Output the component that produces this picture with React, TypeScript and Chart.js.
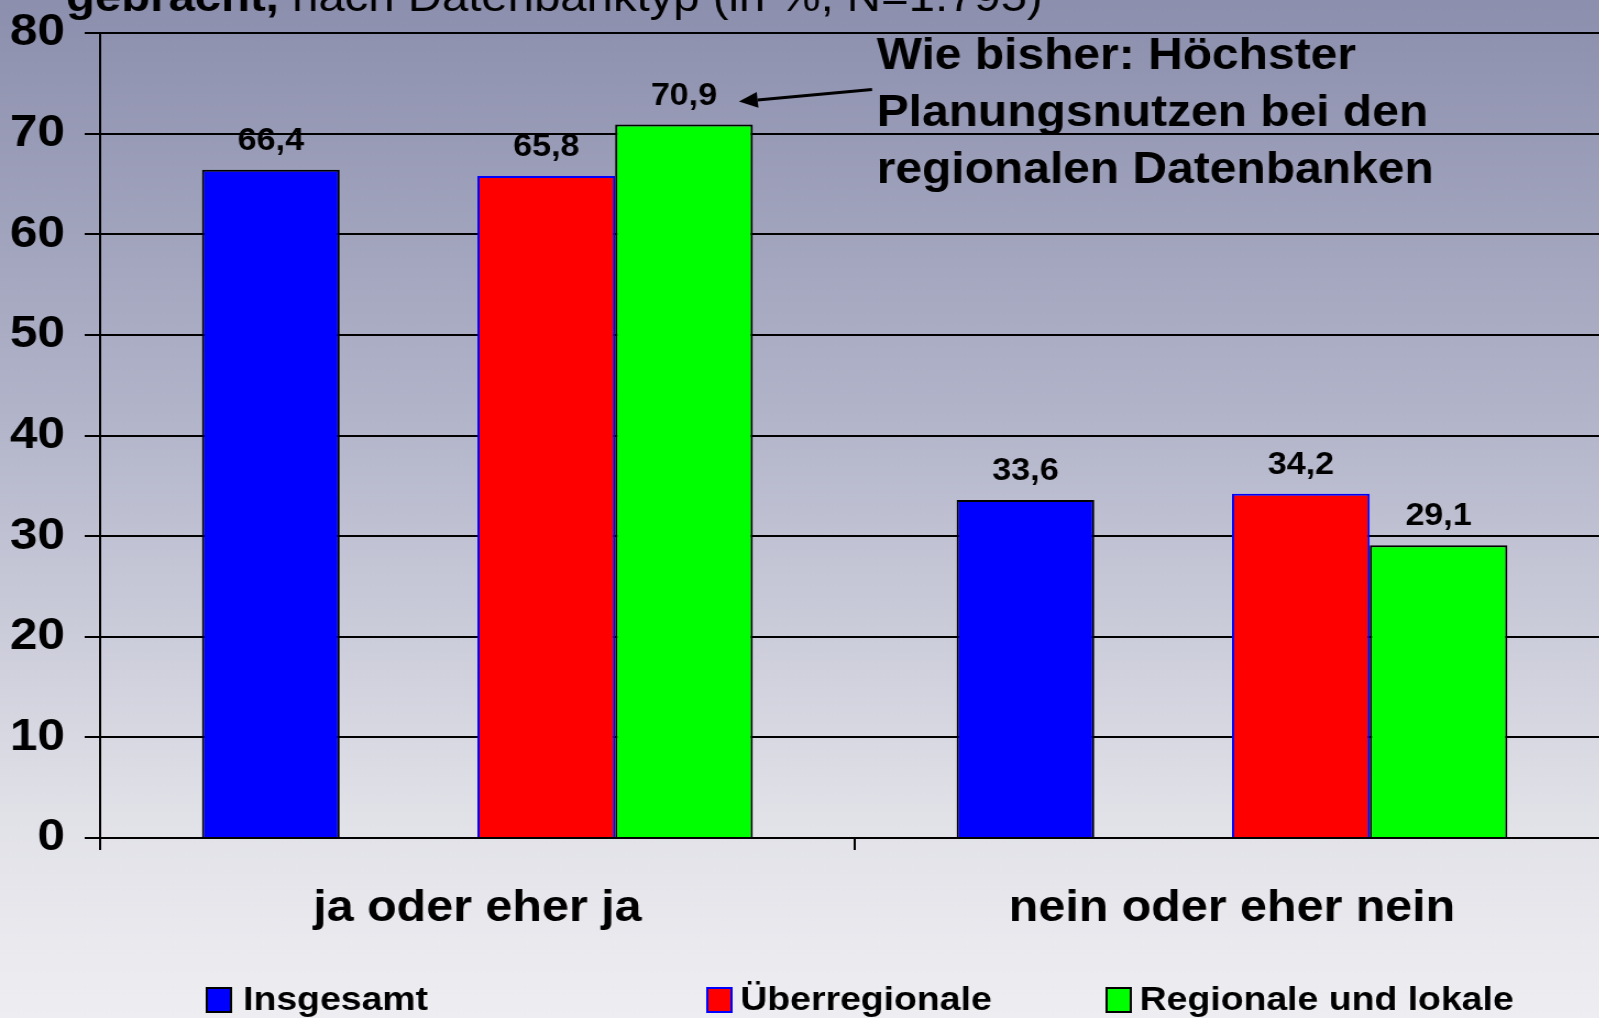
import React, { useEffect, useRef } from "react";
import { Chart, registerables } from "chart.js";

Chart.register(...registerables);

// ---- data ----
const categories = ["ja oder eher ja", "nein oder eher nein"];
const insgesamt = [66.4, 33.6];
const spacer: (number | null)[] = [null, null];
const ueberregionale = [65.8, 34.2];
const regionale = [70.9, 29.1];
const yMin = 0;
const yMax = 80;
const yStep = 10;
const titleBold = "gebracht,";
const titleNormal = " nach Datenbanktyp (in %, N=1.795)";
const annotationLines = ["Wie bisher: Höchster", "Planungsnutzen bei den", "regionalen Datenbanken"];

const FONT = '"Liberation Sans", Arial, Helvetica, sans-serif';
const SX = 1.1; // horizontal stretch of original slide
const CW = 1464;
const CH = 1018;

const fmt = (v: number) => v.toFixed(1).replace(".", ",");

const bgPlugin = {
  id: "bg",
  beforeDraw(chart: any) {
    const { ctx, width, height } = chart;
    const g = ctx.createLinearGradient(0, 0, 0, height);
    g.addColorStop(0, "#8C8FAD");
    g.addColorStop(0.4, "#B1B3C9");
    g.addColorStop(0.8, "#E1E1E8");
    g.addColorStop(1, "#EEEEF2");
    ctx.save();
    ctx.fillStyle = g;
    ctx.fillRect(0, 0, width, height);
    ctx.restore();
  },
};

const labelsPlugin = {
  id: "valueLabels",
  afterDatasetsDraw(chart: any) {
    const { ctx } = chart;
    ctx.save();
    ctx.font = `bold 31px ${FONT}`;
    ctx.fillStyle = "#000";
    ctx.textAlign = "center";
    ctx.textBaseline = "alphabetic";
    chart.data.datasets.forEach((ds: any, i: number) => {
      if (!ds.label) return;
      const meta = chart.getDatasetMeta(i);
      meta.data.forEach((bar: any, j: number) => {
        const v = ds.data[j];
        if (v == null) return;
        ctx.fillText(fmt(v), bar.x, bar.y - 20);
      });
    });
    ctx.restore();
  },
};

const overlayPlugin = {
  id: "overlay",
  afterDraw(chart: any) {
    const { ctx } = chart;
    ctx.save();
    // title (cut off at top)
    ctx.fillStyle = "#000";
    ctx.textBaseline = "alphabetic";
    ctx.textAlign = "left";
    ctx.font = `bold 43px ${FONT}`;
    ctx.fillText(titleBold, 60, 11);
    const w = ctx.measureText(titleBold).width;
    ctx.font = `43px ${FONT}`;
    ctx.fillText(titleNormal, 60 + w, 11);

    // annotation text
    ctx.font = `bold 43.6px ${FONT}`;
    annotationLines.forEach((line, k) => {
      ctx.fillText(line, 797, 69 + k * 57);
    });

    // arrow pointing to the highest bar label
    const meta = chart.getDatasetMeta(3);
    const bar: any = meta.data[0];
    const tipX = bar.x + 50;
    const tipY = bar.y - 23;
    const tailX = tipX + 121;
    const tailY = tipY - 12;
    const ang = Math.atan2(tipY - tailY, tipX - tailX);
    const headL = 17;
    const headW = 8;
    const bx = tipX - headL * Math.cos(ang);
    const by = tipY - headL * Math.sin(ang);
    ctx.strokeStyle = "#000";
    ctx.lineWidth = 3;
    ctx.beginPath();
    ctx.moveTo(tailX, tailY);
    ctx.lineTo(bx, by);
    ctx.stroke();
    ctx.beginPath();
    ctx.moveTo(tipX, tipY);
    ctx.lineTo(bx + headW * Math.sin(ang), by - headW * Math.cos(ang));
    ctx.lineTo(bx - headW * Math.sin(ang), by + headW * Math.cos(ang));
    ctx.closePath();
    ctx.fillStyle = "#000";
    ctx.fill();

    // legend
    const legendItems = [
      { ds: 0, box: 188, text: 221 },
      { ds: 2, box: 643, text: 673 },
      { ds: 3, box: 1006, text: 1036 },
    ];
    ctx.font = `bold 34px ${FONT}`;
    legendItems.forEach((it) => {
      const ds: any = chart.data.datasets[it.ds];
      ctx.fillStyle = ds.backgroundColor;
      ctx.fillRect(it.box, 988, 22, 24);
      ctx.strokeStyle = ds.borderColor;
      ctx.lineWidth = 2;
      ctx.strokeRect(it.box, 988, 22, 24);
      ctx.fillStyle = "#000";
      ctx.fillText(ds.label, it.text, 1010);
    });
    ctx.restore();
  },
};

export default function App() {
  const ref = useRef<HTMLCanvasElement | null>(null);

  useEffect(() => {
    if (!ref.current) return;
    const chart = new Chart(ref.current, {
      type: "bar",
      data: {
        labels: categories,
        datasets: [
          { label: "Insgesamt", data: insgesamt, backgroundColor: "#0000FF", borderColor: "#000000", borderWidth: 2 },
          { label: "", data: spacer, backgroundColor: "rgba(0,0,0,0)", borderWidth: 0 },
          { label: "Überregionale", data: ueberregionale, backgroundColor: "#FF0000", borderColor: "#0000FF", borderWidth: 2 },
          { label: "Regionale und lokale", data: regionale, backgroundColor: "#00FF00", borderColor: "#000000", borderWidth: 2 },
        ] as any,
      },
      options: {
        responsive: false,
        animation: false,
        devicePixelRatio: 1,
        layout: { padding: { top: 33, right: 1, left: 0, bottom: 0 } },
        datasets: { bar: { categoryPercentage: 0.73, barPercentage: 1 } } as any,
        plugins: {
          legend: { display: false },
          tooltip: { enabled: false },
          title: { display: false },
        },
        scales: {
          x: {
            offset: true,
            grid: {
              display: true,
              drawOnChartArea: false,
              drawTicks: true,
              tickLength: 12,
              color: "#000",
              lineWidth: 2,
              offset: true,
            },
            border: { display: true, color: "#000", width: 2 },
            ticks: {
              color: "#000",
              font: { family: FONT, size: 44, weight: "bold" },
              padding: 32,
              maxRotation: 0,
            },
            afterFit(scale: any) {
              scale.height = 180;
              scale.paddingLeft = 0;
              scale.paddingRight = 0;
            },
          },
          y: {
            min: yMin,
            max: yMax,
            grid: {
              color: "#000",
              lineWidth: 2,
              drawTicks: true,
              tickLength: 14,
            },
            border: { display: true, color: "#000", width: 2 },
            ticks: {
              stepSize: yStep,
              color: "#000",
              font: { family: FONT, size: 45, weight: "bold" },
              padding: 18,
            },
            afterFit(scale: any) {
              scale.width = 91;
              scale.paddingTop = 0;
              scale.paddingBottom = 0;
            },
          },
        },
      } as any,
      plugins: [bgPlugin, labelsPlugin, overlayPlugin],
    });
    return () => chart.destroy();
  }, []);

  return (
    <div
      style={{
        position: "fixed",
        left: 0,
        top: 0,
        width: 1599,
        height: 1018,
        overflow: "hidden",
        background: "#EEEEF2",
      }}
    >
      <canvas
        ref={ref}
        width={CW}
        height={CH}
        style={{
          display: "block",
          width: CW,
          height: CH,
          transform: `scaleX(${SX})`,
          transformOrigin: "0 0",
        }}
      />
    </div>
  );
}
